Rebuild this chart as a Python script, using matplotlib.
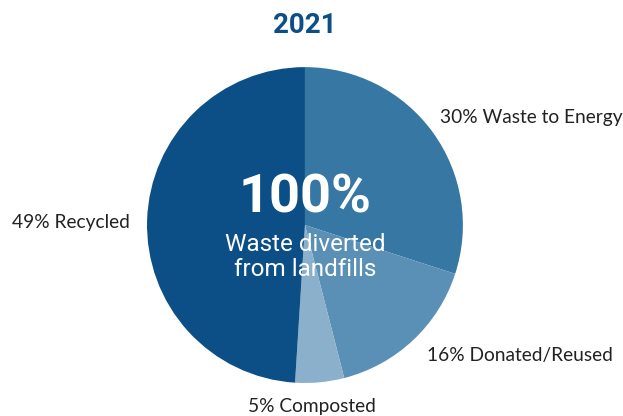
import matplotlib.pyplot as plt

# Data
labels = ['Waste to Energy', 'Donated/Reused', 'Composted', 'Recycled']
shares = [30, 16, 5, 49]
colors = ['#3677a3', '#5a90b6', '#8bb0cb', '#0b4f86']

fig = plt.figure(figsize=(6.23, 4.16), dpi=100)
ax = fig.add_axes([0.236, 0.079, 0.507, 0.760])
ax.pie(shares, colors=colors, startangle=90, counterclock=False,
       radius=1, wedgeprops=dict(linewidth=0))
ax.set_xlim(-1, 1)
ax.set_ylim(-1, 1)
ax.set_aspect('equal')
ax.axis('off')

# Slice labels
lab_font = dict(family='Lato', fontsize=13.8, color='#222222')
pos = [(0.854, 0.684, 'left'), (0.772, -0.823, 'left'),
       (0.044, -1.146, 'center'), (-1.108, 0.019, 'right')]
for (x, y, ha), lab, v in zip(pos, labels, shares):
    ax.text(x, y, f'{v}% {lab}', ha=ha, va='center', clip_on=False, **lab_font)

# Center text
ax.text(0, 0.17, '100%', ha='center', va='center', color='white',
        family='Roboto', fontweight='bold', fontsize=39)
ax.text(0, -0.2, 'Waste diverted\nfrom landfills', ha='center', va='center',
        color='white', family='Roboto', fontsize=17.5, linespacing=1.1)

ax.text(0, 1.266, '2021', ha='center', va='center', color='#0b4f86',
        family='Roboto', fontweight='bold', fontsize=20, clip_on=False)

fig.savefig('out.png', dpi=100)
